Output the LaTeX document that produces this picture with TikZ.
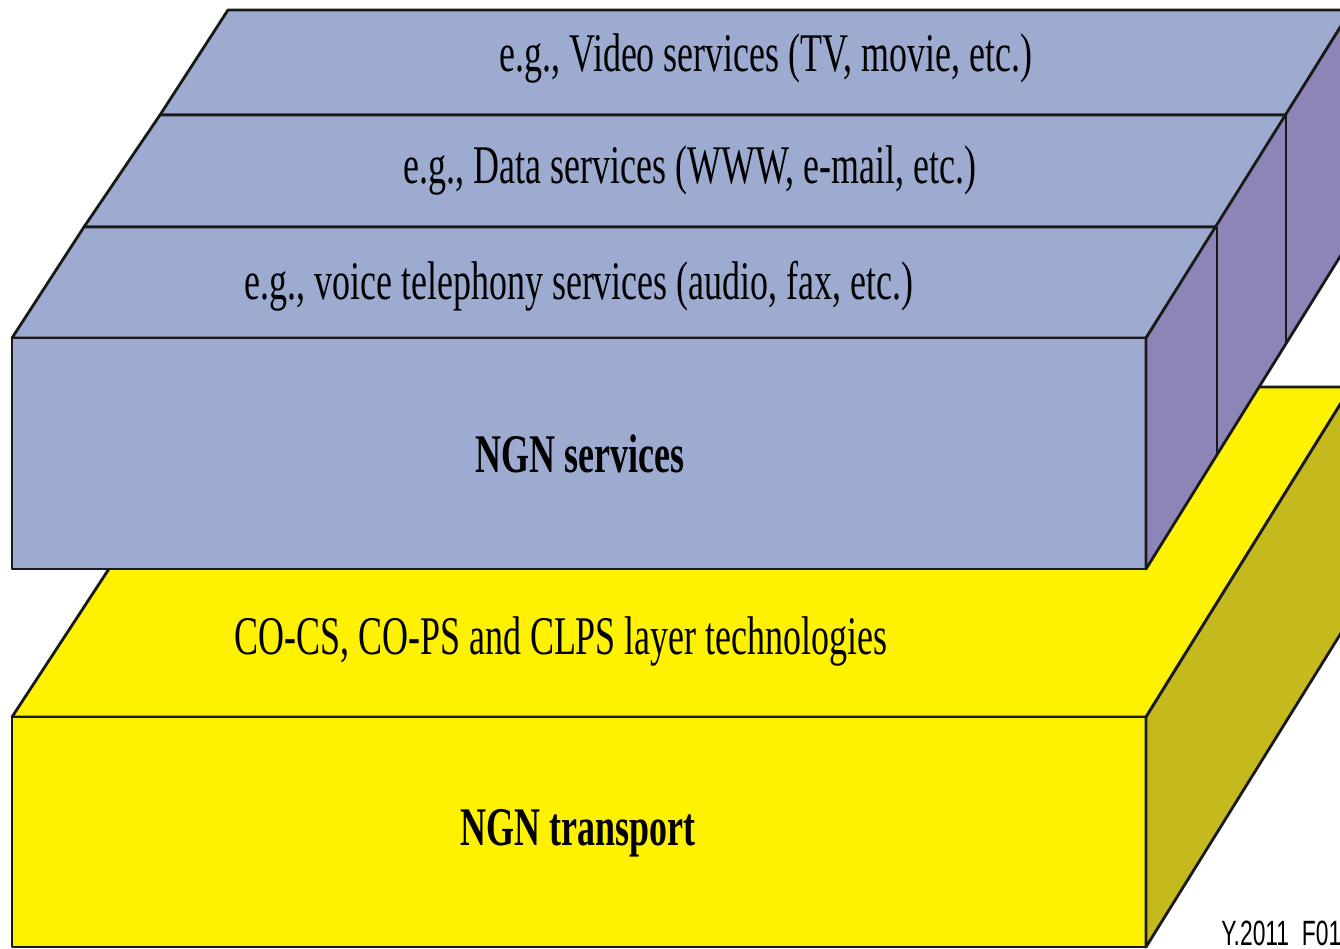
\documentclass[tikz,border=0pt]{standalone}
\usepackage{fontspec}
\usepackage{tikz}
\newfontfamily\narrowserif[FakeStretch=0.66]{Liberation Serif}
\newfontfamily\narrowsans[FakeStretch=0.65]{Liberation Sans}
\definecolor{svcblue}{HTML}{9EABD0}
\definecolor{svcside}{HTML}{8D85B8}
\definecolor{trnyellow}{HTML}{FFF200}
\definecolor{trnside}{HTML}{C4BA1D}

\begin{document}
\begin{tikzpicture}[x=0.02cm, y=-0.02cm, line width=1.6pt,
  face/.style={draw=black!90, line join=round},
  lbl/.style={font=\narrowserif\fontsize{31}{36}\selectfont, inner sep=0pt, anchor=base},
  title/.style={font=\narrowserif\bfseries\fontsize{31}{36}\selectfont, inner sep=0pt, anchor=base}]
  \useasboundingbox (0,0) rectangle (1340,949);
  % transport slab
  \filldraw[face, fill=trnyellow] (12,717) -- (228,387) -- (1351,387) -- (1146,717) -- cycle;
  \filldraw[face, fill=trnyellow] (12,717) rectangle (1146,947);
  \filldraw[face, fill=trnside] (1146,717) -- (1351,387) -- (1351,617) -- (1146,947) -- cycle;
  % service slabs
  \filldraw[face, fill=svcblue] (160,115) -- (228,10) -- (1351,10) -- (1286,115) -- cycle;
  \filldraw[face, fill=svcblue] (84,227) -- (160,115) -- (1286,115) -- (1217,227) -- cycle;
  \filldraw[face, fill=svcblue] (12,338) -- (84,227) -- (1217,227) -- (1146,338) -- cycle;
  \filldraw[face, fill=svcblue] (12,338) rectangle (1146,569);
  \filldraw[face, fill=svcside] (1146,338) -- (1351,10) -- (1351,239) -- (1146,569) -- cycle;
  \draw[face] (1217,227) -- (1217,455);
  \draw[face] (1286,115) -- (1286,343);
  \node[lbl] (video) at (766,72) {e.g., Video services (TV, movie, etc.)};
  \node[lbl] (data) at (690,184) {e.g., Data services (WWW, e-mail, etc.)};
  \node[lbl] (voice) at (579,300) {e.g., voice telephony services (audio, fax, etc.)};
  \node[title] (svc) at (580,473) {NGN services};
  \node[lbl] (tech) at (561,655) {CO-CS, CO-PS and CLPS layer technologies};
  \node[title] (trn) at (578,845) {NGN transport};
  \node[font=\narrowsans\fontsize{20}{24}\selectfont, anchor=base west, inner sep=0pt] (figid) at (1220,945) {Y.2011\_F01};
\end{tikzpicture}
\end{document}
